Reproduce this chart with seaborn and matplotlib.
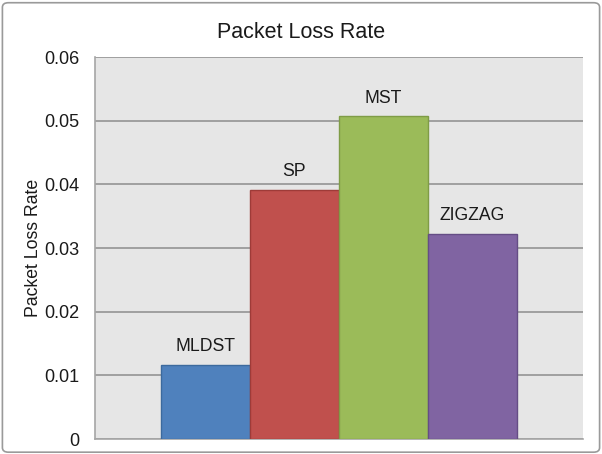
import matplotlib
matplotlib.use("Agg")
import matplotlib.pyplot as plt
from matplotlib.patches import FancyBboxPatch
import seaborn as sns

# data
methods = ["MLDST", "SP", "MST", "ZIGZAG"]
loss_rate = [0.0116, 0.0391, 0.0507, 0.0322]
bar_colors = ["#4F81BD", "#C0504D", "#9BBB59", "#8064A2"]
edge_colors = ["#3C6A9E", "#9E3B38", "#7F9C46", "#654D85"]
yticks = [0, 0.01, 0.02, 0.03, 0.04, 0.05, 0.06]
ytick_labels = ["0", "0.01", "0.02", "0.03", "0.04", "0.05", "0.06"]

sns.set_theme(style="white")
plt.rcParams["font.family"] = ["Liberation Sans", "DejaVu Sans"]

fig = plt.figure(figsize=(6.02, 4.54), dpi=100)
ax = fig.add_axes([0.158, 0.033, 0.810, 0.841])
ax.set_facecolor("#E6E6E6")

sns.barplot(x=methods, y=loss_rate, hue=methods, palette=bar_colors,
            width=1.0, saturation=1, legend=False, ax=ax, zorder=3)
for bar, ec in zip(ax.patches, edge_colors):
    bar.set_edgecolor(ec)
    bar.set_linewidth(1.0)

for i, (name, v) in enumerate(zip(methods, loss_rate)):
    ax.annotate(name, (i, v), xytext=(0, 7), textcoords="offset points",
                ha="center", va="bottom", fontsize=12.7, color="#1a1a1a")

ax.set_xlim(-1.24, 4.24)
ax.set_ylim(0, 0.06)
ax.set_yticks(yticks)
ax.set_yticklabels(ytick_labels)
ax.set_xticks([])
ax.set_xlabel("")
ax.tick_params(axis="y", length=0, pad=11, labelsize=13, labelcolor="#1a1a1a")
ax.yaxis.grid(True, color="#8C8C8C", linewidth=1.1, zorder=1)
ax.set_axisbelow(True)

for side in ["top", "right"]:
    ax.spines[side].set_visible(False)
for side in ["left", "bottom"]:
    ax.spines[side].set_color("#A6A6A6")
    ax.spines[side].set_linewidth(1.2)

ax.set_ylabel("Packet Loss Rate", fontsize=12.7, labelpad=2, color="#1a1a1a")
# title is centred on the whole figure, not on the plot area
fig.text(0.5, 1 - 38 / 454, "Packet Loss Rate", ha="center", va="baseline",
         fontsize=15.5, color="#1a1a1a")

fig.patches.append(FancyBboxPatch((0.004, 0.004), 0.992, 0.99,
                                  boxstyle="round,pad=0,rounding_size=0.01",
                                  transform=fig.transFigure, fill=False,
                                  edgecolor="#9A9A9A", linewidth=1.2))

fig.savefig("out.png", dpi=100)
